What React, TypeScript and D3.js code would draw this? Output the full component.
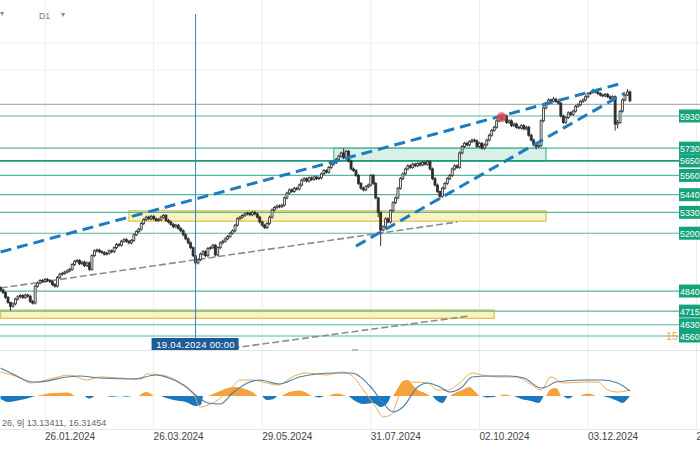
import React from 'react';
import * as d3 from 'd3';

// ---------- DATA ----------
const firstOpen = 4860;
const closes = [
  4846, 4830, 4800, 4770, 4745, 4760, 4790, 4805, 4812, 4800,
  4815, 4808, 4775, 4765, 4870, 4890, 4905, 4900, 4912, 4905,
  4898, 4880, 4870, 4925, 4945, 4950, 4958, 4965, 4975, 5005,
  5025, 5030, 5010, 5020, 4998, 5015, 4975, 5060, 5090, 5095,
  5085, 5080, 5070, 5075, 5090, 5085, 5110, 5130, 5125, 5150,
  5160, 5150, 5140, 5155, 5190, 5210, 5225, 5260, 5285, 5300,
  5290, 5305, 5290, 5280, 5285, 5300, 5310, 5280, 5270, 5255,
  5240, 5250, 5230, 5215, 5190, 5165, 5140, 5110, 5060, 5015,
  5035, 5070, 5085, 5060, 5105, 5110, 5125, 5065, 5110, 5140,
  5150, 5165, 5180, 5200, 5215, 5250, 5290, 5300, 5310, 5320,
  5325, 5315, 5330, 5320, 5300, 5270, 5250, 5235, 5260, 5300,
  5345, 5360, 5370, 5365, 5375, 5420, 5450, 5470, 5460, 5480,
  5475, 5500, 5530, 5540, 5525, 5545, 5535, 5550, 5540, 5545,
  5570, 5590, 5580, 5610, 5630, 5640, 5660, 5680, 5700, 5670,
  5710, 5650, 5600, 5590, 5560, 5510, 5480, 5470, 5490, 5500,
  5560, 5510, 5420, 5330, 5220, 5240, 5290, 5270, 5340, 5390,
  5420, 5480, 5540, 5570, 5600, 5620, 5610, 5630, 5620, 5635,
  5625, 5640, 5630, 5645, 5600, 5540, 5500, 5460, 5430, 5480,
  5510, 5540, 5560, 5600, 5620, 5610, 5700, 5740, 5760, 5750,
  5770, 5780, 5775, 5740, 5760, 5730, 5750, 5780, 5810, 5840,
  5860, 5900, 5920, 5910, 5930, 5890, 5900, 5870, 5880, 5860,
  5855, 5870, 5850, 5860, 5810, 5780, 5750, 5740, 5745, 5900,
  5980, 6010, 6030, 6020, 6035, 6020, 6010, 5930, 5890, 5920,
  5950, 5940, 5960, 5990, 6000, 6020, 6030, 6050, 6070, 6075,
  6085, 6080, 6070, 6060, 6055, 6065, 6050, 6040, 6050, 5880,
  5890, 5960, 6030, 6060, 6080, 6025,
];
// [bar, high, low] for bars with long wicks
const extremes = [
  [4, 4772, 4718], [79, 5062, 4975], [139, 5728, 5660], [153, 5425, 5300],
  [154, 5335, 5120], [178, 5465, 5410], [217, 5760, 5722], [224, 6050, 6015],
  [240, 6100, 6070], [249, 6058, 5840], [250, 5905, 5852], [254, 6098, 6055],
];

const levels = [5930, 5730, 5650, 5560, 5440, 5330, 5200, 4840, 4715, 4630, 4560];
const strongLevel = 5650;
const lastPrice = 6003;
const gridPrices = [6385, 6216];

const tickBars = [18, 62, 106, 150, 194, 238, 282];
const tickLabels = ['26.01.2024', '26.03.2024', '29.05.2024', '31.07.2024', '02.10.2024', '03.12.2024', '29.01.2025'];
const cursorBar = 79;
const cursorLabel = '19.04.2024 00:00';

const upperWedge = [[0, 5083], [252, 6135]];
const lowerWedge = [[144, 5120], [253, 6073]];
const supportA = [[0, 4859], [185, 5270]];
const supportB = [[94, 4485], [190, 4685]];
const greenZone = [135, 221, 5730, 5650];
const yellowZones = [[52, 221, 5340, 5275], [0, 200, 4722, 4670]];
const marker = [203, 5922];

const macdLine = [
  [0, 24], [8, 18], [12, 13], [20, 17], [28, 21], [35, 16], [40, 19], [57, 17], [59, 22], [65, 21],
  [73, 13], [78, 3], [81, -11], [84, -9], [88, -4], [94, 9], [97, 16], [102, 16], [108, 13], [112, 11],
  [119, 20], [124, 23], [132, 21], [138, 24], [142, 21], [147, 6], [152, -11], [155, -21], [158, -19],
  [162, 3], [167, 14], [173, 13], [177, 6], [181, 6], [186, 13], [191, 23], [195, 21], [202, 19],
  [209, 19], [214, 13], [219, 6], [223, 19], [228, 13], [236, 14], [242, 14], [246, 6], [250, 4], [255, 6],
];
const signalLine = [
  [0, 28], [5, 22], [13, 14], [15, 14], [27, 19], [32, 20], [40, 18], [54, 17], [63, 21], [67, 19],
  [74, 11], [80, -1], [84, -7], [89, -8], [94, 3], [100, 13], [105, 16], [113, 12], [121, 19], [135, 23],
  [142, 23], [150, 9], [155, -7], [159, -16], [163, -11], [169, 9], [173, 13], [178, 9], [182, 4],
  [187, 9], [191, 19], [198, 20], [206, 20], [212, 18], [219, 8], [221, 9], [225, 14], [236, 16],
  [244, 16], [250, 13], [255, 5],
];
const histNeg = [
  [[0, -3], [3, -6], [6, -5], [10, -3], [14, 0]],
  [[34, 0], [36, -2.5], [38, 0]],
  [[43, 0], [45, -0.8], [48, 0]],
  [[49, 0], [51, -0.8], [53, 0]],
  [[65, 0], [70, -4], [75, -6], [79, -10], [81, -9], [82, 0]],
  [[106, 0], [108, -4], [110, -3.5], [112, 0]],
  [[127, 0], [129, -1.5], [131, 0]],
  [[141, 0], [143, -4], [147, -8], [151, -7], [154, -11], [157, -6], [158, 0]],
  [[175, 0], [177, -5], [179, -7], [181, 0]],
  [[195, 0], [197, -1.5], [200, -1], [201, 0]],
  [[208, 0], [211, -3], [215, -5], [218, -7], [220, 0]],
  [[228, 0], [230, -2.5], [232, 0]],
  [[244, 0], [247, -2], [250, -5], [252, -7], [254, -3], [255, 0]],
];
const histPos = [
  [[15, 0], [18, 2], [22, 3], [27, 3.5], [30, 0]],
  [[56, 0], [59, 4], [62, 0]],
  [[84, 0], [88, 4], [92, 8], [95, 9], [99, 7], [102, 4], [104, 0]],
  [[114, 0], [117, 4], [121, 5.5], [124, 3], [126, 0]],
  [[133, 0], [136, 2.5], [140, 0]],
  [[159, 0], [161, 8], [163, 15], [165, 16], [167, 11], [169, 6], [172, 3], [174, 0]],
  [[182, 0], [184, 3], [187, 6], [190, 9], [192, 5], [194, 0]],
  [[202, 0], [204, 1.5], [207, 0]],
  [[221, 0], [223, 7], [225, 8], [227, 0]],
  [[235, 0], [238, 2.5], [241, 0]],
];
const macdText = '26, 9| 13.13411,  16.31454';

// ---------- CHART ----------
const W = 700;
const H = 450;

export default function App() {
  const x = d3.scaleLinear().domain([0, 255]).range([0.6, 0.6 + 255 * 2.468]);
  const y = d3.scaleLinear().domain([4560, 5930]).range([336, 116]);
  const yi = d3.scaleLinear().domain([-30, 40]).range([426, 356]);

  const ext = new Map(extremes.map((e) => [e[0], e]));
  const bars = closes.map((c, i) => {
    const o = i === 0 ? firstOpen : closes[i - 1];
    const e = ext.get(i);
    const hi = Math.max(o, c, e ? e[1] : Math.max(o, c) + 9);
    const lo = Math.min(o, c, e ? e[2] : Math.min(o, c) - 9);
    return { i, o, c, hi, lo };
  });

  const lineGen = (pts) => d3.line().x((d) => x(d[0])).y((d) => y(d[1]))(pts);
  const indLine = d3.line().x((d) => x(d[0])).y((d) => yi(d[1])).curve(d3.curveMonotoneX);
  const histArea = d3.area().x((d) => x(d[0])).y0(yi(0)).y1((d) => yi(d[1])).curve(d3.curveMonotoneX);

  const levelColor = '#55b7a2';
  const labelColor = '#16a37b';
  const font = 'Liberation Sans, Arial, sans-serif';

  return (
    <svg width={W} height={H} style={{ position: 'absolute', left: 0, top: 0, background: '#fff' }} fontFamily={font}>
      <rect x={0} y={0} width={W} height={H} fill="#fff" />
      {/* grid */}
      {tickBars.map((b, k) => (
        <line key={'vg' + k} x1={x(b)} x2={x(b)} y1={0} y2={430} stroke="#ececec" strokeWidth={1} />
      ))}
      {gridPrices.map((p, k) => (
        <line key={'hg' + k} x1={0} x2={W} y1={y(p)} y2={y(p)} stroke="#f0f0f0" strokeWidth={1} />
      ))}
      <line x1={0} x2={W} y1={350.5} y2={350.5} stroke="#e2e2e2" />
      <line x1={0} x2={W} y1={429.5} y2={429.5} stroke="#e8e8e8" />

      {/* zones */}
      {yellowZones.map((z, k) => (
        <rect key={'yz' + k} x={x(z[0])} y={y(z[2])} width={x(z[1]) - x(z[0])} height={y(z[3]) - y(z[2])}
          fill="#fbefb0" fillOpacity={0.8} stroke="#d9c75e" strokeWidth={1.3} />
      ))}
      <rect x={x(greenZone[0])} y={y(greenZone[2])} width={x(greenZone[1]) - x(greenZone[0])}
        height={y(greenZone[3]) - y(greenZone[2])} fill="#cdeee2" fillOpacity={0.8} stroke="#3aa888" strokeWidth={1} />

      {/* levels */}
      {levels.map((p, k) => (
        <line key={'lv' + k} x1={0} x2={679} y1={y(p)} y2={y(p)}
          stroke={p === strongLevel ? '#1f9a76' : levelColor} strokeWidth={p === strongLevel ? 1.8 : 1.2} />
      ))}
      <line x1={0} x2={W} y1={y(lastPrice)} y2={y(lastPrice)} stroke="#b0b0b0" strokeWidth={1.2} />

      {/* gray dashed support lines */}
      {[supportA, supportB].map((s, k) => (
        <path key={'sp' + k} d={lineGen(s)} stroke="#8c8c8c" strokeWidth={1.6} strokeDasharray="7 3" fill="none" />
      ))}
      <line x1={352} x2={358} y1={350} y2={350} stroke="#999" strokeWidth={1.2} />

      {/* candles */}
      {bars.map((b) => {
        const cx = x(b.i);
        const up = b.c >= b.o;
        const top = y(Math.max(b.o, b.c));
        const h = Math.max(0.8, y(Math.min(b.o, b.c)) - top);
        return (
          <g key={'c' + b.i}>
            <line x1={cx} x2={cx} y1={y(b.hi)} y2={y(b.lo)} stroke="#2e2e2e" strokeWidth={1} />
            <rect x={cx - 1} y={top} width={2} height={h} fill={up ? '#e8e8e8' : '#2e2e2e'} stroke="#2e2e2e" strokeWidth={0.8} />
          </g>
        );
      })}

      {/* wedge lines */}
      {[upperWedge, lowerWedge].map((s, k) => (
        <path key={'wg' + k} d={lineGen(s)} stroke="#1f7bc0" strokeWidth={3} strokeDasharray="11 6" fill="none" />
      ))}
      <circle cx={x(marker[0])} cy={y(marker[1])} r={5} fill="#e44a52" fillOpacity={0.75} />

      {/* cursor */}
      <line x1={x(cursorBar)} x2={x(cursorBar)} y1={14} y2={338} stroke="#2f86c0" strokeWidth={1} />
      <rect x={x(cursorBar) - 44} y={338} width={87} height={12} fill="#1d5c96" />
      <text x={x(cursorBar)} y={347.5} fontSize={9.5} fill="#fff" textAnchor="middle" letterSpacing={0.3}>{cursorLabel}</text>

      {/* price labels */}
      {levels.map((p, k) => (
        <g key={'pl' + k}>
          <rect x={679} y={y(p) - 6.5} width={30} height={13} fill={labelColor} />
          <text x={680} y={y(p) + 3.5} fontSize={8.8} fill="#fff">{p}</text>
        </g>
      ))}
      <text x={666} y={340} fontSize={11} fill="#f0a848">15</text>

      {/* top toolbar */}
      <text x={0} y={16} fontSize={8} fill="#888">▾</text>
      <text x={39} y={19} fontSize={8.5} fill="#777">D1</text>
      <text x={61} y={17} fontSize={8} fill="#888">▾</text>

      {/* indicator */}
      {histNeg.map((s, k) => (
        <path key={'hn' + k} d={histArea(s)} fill="#1978c0" />
      ))}
      {histPos.map((s, k) => (
        <path key={'hp' + k} d={histArea(s)} fill="#f5a13c" />
      ))}
      <path d={indLine(macdLine)} stroke="#f4a84e" strokeWidth={1} fill="none" />
      <path d={indLine(signalLine)} stroke="#4b7fa6" strokeWidth={1.1} fill="none" />
      <text x={2} y={426} fontSize={9} fill="#666">{macdText}</text>

      {/* time axis */}
      {tickBars.map((b, k) => (
        <text key={'tl' + k} x={x(b)} y={440} fontSize={10} fill="#444">{tickLabels[k]}</text>
      ))}
    </svg>
  );
}
